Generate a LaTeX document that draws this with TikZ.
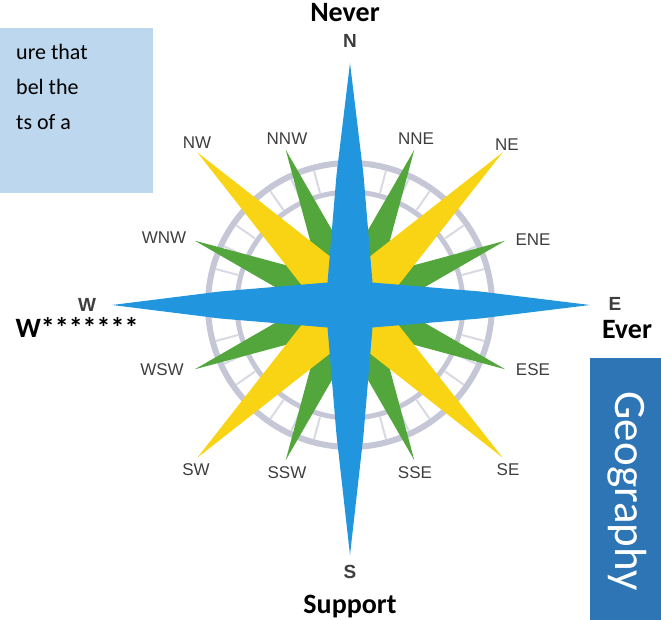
\documentclass[tikz,border=0pt]{standalone}
\usepackage{fontspec}
\setmainfont{Carlito}
\newfontfamily\rosefont{Liberation Sans}

\definecolor{starblue}{HTML}{2196DE}
\definecolor{staryellow}{HTML}{F8D414}
\definecolor{stargreen}{HTML}{52A63C}
\definecolor{ringgray}{HTML}{C6C7D6}
\definecolor{tickgray}{HTML}{D8D9E3}
\definecolor{notebox}{HTML}{BDD7EE}
\definecolor{geobox}{HTML}{2E75B6}
\definecolor{labelgray}{HTML}{3E3E3E}

\begin{document}
\begin{tikzpicture}[x=1pt,y=-1pt,
   pt/.style={font=\rosefont\fontsize{17}{17}\selectfont,text=labelgray,inner sep=0pt},
   mainpt/.style={font=\rosefont\bfseries\fontsize{19}{19}\selectfont,text=labelgray,inner sep=0pt},
   word/.style={font=\bfseries\fontsize{28}{28}\selectfont,inner sep=0pt,anchor=base},
   noteline/.style={font=\fontsize{22}{22}\selectfont,inner sep=0pt,anchor=base west}]

   \useasboundingbox (0,0) rectangle (661,620);

   \fill[notebox] (0,28) rectangle (153,193);
   \node[noteline] (line1) at (16,60) {ure that};
   \node[noteline] (line2) at (16,95) {bel the};
   \node[noteline] (line3) at (16,130) {ts of a};

   \fill[geobox] (590,358) rectangle (661,620);
   \node[rotate=-90,text=white,font=\fontsize{45}{45}\selectfont,inner sep=0pt] (geo) at (627,491) {Geography};

\begin{scope}[shift={(350,305)},y=1pt]
   \draw[ringgray,line width=6pt] (0,0) circle (142);
   \draw[ringgray,line width=5pt] (0,0) circle (113);
   \foreach \a in {5,15,...,355}
      \draw[tickgray,line width=2pt] (\a:116) -- (\a:139);
   \foreach \a in {22.5,67.5,...,337.5}
      \fill[stargreen] (\a:168) -- (\a+90:22) -- (\a-90:22) -- cycle;
   \foreach \a in {45,135,225,315}
      \fill[staryellow] (\a:216) -- (\a+90:26) -- (\a-90:26) -- cycle;
   \fill[starblue] (240,0) -- (130,13.5) -- (22.5,22.5) -- (13.5,130) -- (0,242)
      -- (-13.5,130) -- (-22.5,22.5) -- (-130,13.5) -- (-238,0)
      -- (-130,-13.5) -- (-22.5,-22.5) -- (-13.5,-130) -- (0,-250)
      -- (13.5,-130) -- (22.5,-22.5) -- (130,-13.5) -- cycle;
\end{scope}

   \node[mainpt] (n) at (350,41) {N};
   \node[mainpt] (s) at (350,572) {S};
   \node[mainpt] (e) at (615,304) {E};
   \node[mainpt] (w) at (87,305) {W};

   \node[pt] (nw) at (197,143) {NW};
   \node[pt] (nnw) at (287,139) {NNW};
   \node[pt] (nne) at (416,139) {NNE};
   \node[pt] (ne) at (507,145) {NE};
   \node[pt] (wnw) at (164,238) {WNW};
   \node[pt] (ene) at (533,240) {ENE};
   \node[pt] (wsw) at (162,370) {WSW};
   \node[pt] (ese) at (533,370) {ESE};
   \node[pt] (sw) at (196,470) {SW};
   \node[pt] (ssw) at (287,473) {SSW};
   \node[pt] (sse) at (415,473) {SSE};
   \node[pt] (se) at (508,470) {SE};

   \node[word] (never) at (345,22) {Never};
   \node[word] (support) at (350,613) {Support};
   \node[word] (ever) at (627,338) {Ever};
   \node[word] (wword) at (77,337) {W*******};

\end{tikzpicture}
\end{document}
